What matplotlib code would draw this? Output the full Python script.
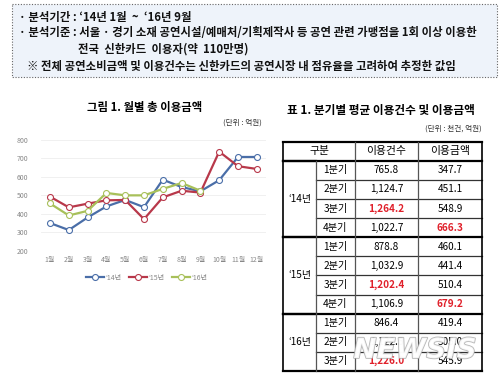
import matplotlib
matplotlib.use('Agg')
import matplotlib.pyplot as plt
import matplotlib.patheffects as pe
from matplotlib.patches import Rectangle

plt.rcParams['font.family'] = ['Noto Sans CJK KR', 'DejaVu Sans']

months = ['1월', '2월', '3월', '4월', '5월', '6월', '7월', '8월', '9월', '10월', '11월', '12월']
amt14 = [350, 312, 380, 440, 475, 436, 585, 545, 522, 582, 708, 708]
amt15 = [493, 435, 455, 473, 475, 371, 489, 525, 515, 737, 658, 643]
amt16 = [456, 391, 416, 513, 500, 500, 535, 567, 525]
series_names = ["‘14년", "‘15년", "‘16년"]
series_colors = ['#4a6ea8', '#b8384a', '#a8c05a']

years = ["‘14년", "‘15년", "‘16년"]
quarters = [['1분기', '2분기', '3분기', '4분기'],
            ['1분기', '2분기', '3분기', '4분기'],
            ['1분기', '2분기', '3분기']]
counts = [['765.8', '1,124.7', '1,264.2', '1,022.7'],
          ['878.8', '1,032.9', '1,202.4', '1,106.9'],
          ['846.4', '1,122.5', '1,226.0']]
amounts = [['347.7', '451.1', '548.9', '666.3'],
           ['460.1', '441.4', '510.4', '679.2'],
           ['419.4', '505.0', '545.9']]
count_hi = [2, 2, 2]   # row index of highlighted count
amount_hi = [3, 3, None]

info_lines = [
    "· 분석기간 : ‘14년 1월  ~  ‘16년 9월",
    "· 분석기준 : 서울 · 경기 소재 공연시설/예매처/기획제작사 등 공연 관련 가맹점을 1회 이상 이용한",
    "전국  신한카드  이용자(약  110만명)",
    "※ 전체 공연소비금액 및 이용건수는 신한카드의 공연시장 내 점유율을 고려하여 추정한 값임",
]

fig = plt.figure(figsize=(4.99, 3.86), dpi=100)
ov = fig.add_axes([0, 0, 1, 1])
ov.set_xlim(0, 499)
ov.set_ylim(386, 0)
ov.axis('off')

# info box
ov.add_patch(Rectangle((12, 4), 485, 73, facecolor='#eef3fa', edgecolor='#666666',
                       linestyle=(0, (1, 1.5)), linewidth=0.8))
info_pos = [(19, 17), (19, 33), (78, 49), (27, 66)]
for (x, y), s in zip(info_pos, info_lines):
    ov.text(x, y, s, fontsize=8.2, fontweight='bold', va='center', ha='left', color='#111111')

# chart
ov.text(145, 108, '그림 1. 월별 총 이용금액', fontsize=8.2, fontweight='bold', ha='center', va='center')
ov.text(262, 123, '(단위 : 억원)', fontsize=5.5, ha='right', va='center', color='#333333')

ax = fig.add_axes([40.6 / 499, (386 - 250.7) / 386, 225.6 / 499, 110.7 / 386])
ax.patch.set_alpha(0)
x = list(range(1, 13))
for vals, name, c in zip([amt14, amt15, amt16], series_names, series_colors):
    ax.plot(x[:len(vals)], vals, color=c, lw=1.6, marker='o', ms=4.3,
            mfc='white', mec=c, mew=0.8, label=name)
ax.set_xlim(0.5, 12.5)
ax.set_ylim(200, 800)
ax.set_yticks(range(200, 801, 100))
ax.set_xticks(x)
ax.set_xticklabels(months)
ax.tick_params(length=0, labelsize=5, colors='#888888', pad=4)
ax.tick_params(axis='y', pad=9)
ax.grid(axis='y', color='#eeeeee', lw=0.6)
for s in ax.spines.values():
    s.set_visible(False)
ax.legend(loc='upper center', bbox_to_anchor=(0.47, -0.15), ncol=3, frameon=False,
          fontsize=5, handlelength=2.6, columnspacing=1.0, handletextpad=0.3,
          labelcolor='#888888')

# table
ov.text(381, 110.5, '표 1. 분기별 평균 이용건수 및 이용금액', fontsize=8.4, fontweight='bold',
        ha='center', va='center')
ov.text(482, 129, '(단위 : 천건, 억원)', fontsize=5.5, ha='right', va='center', color='#333333')

xl, xyq, xqc, xca, xr = 283, 316, 355, 418, 482
top = 141.7
rh = 19.1
for xc, s in [((xl + xqc) / 2, '구분'), ((xqc + xca) / 2, '이용건수'), ((xca + xr) / 2, '이용금액')]:
    ov.text(xc, top + rh / 2, s, fontsize=7.8, ha='center', va='center')
ov.plot([xl, xr], [top, top], color='black', lw=1.6)
y0 = top + rh
ov.plot([xl, xr], [y0, y0], color='black', lw=1.6)
for g, yr in enumerate(years):
    n = len(quarters[g])
    for i in range(n):
        yc = y0 + rh * (i + 0.5)
        ov.text((xyq + xqc) / 2, yc, quarters[g][i], fontsize=7.3, ha='center', va='center')
        hi = count_hi[g] == i
        ov.text((xqc + xca) / 2, yc, counts[g][i], fontsize=7.2, ha='center', va='center',
                color='#e0202a' if hi else 'black', fontweight='bold' if hi else 'normal')
        hi = amount_hi[g] == i
        ov.text((xca + xr) / 2, yc, amounts[g][i], fontsize=7.2, ha='center', va='center',
                color='#e0202a' if hi else 'black', fontweight='bold' if hi else 'normal')
        if i < n - 1:
            ov.plot([xyq, xr], [y0 + rh * (i + 1)] * 2, color='#333333', lw=0.9)
    ov.text((xl + xyq) / 2, y0 + rh * n / 2, yr, fontsize=7.2, ha='center', va='center')
    y1 = y0 + rh * n
    ov.plot([xl, xyq], [y0, y0], color='black', lw=1.6)
    ov.plot([xl, xr], [y1, y1], color='black', lw=1.6)
    y0 = y1
bottom = y0
ov.plot([xl, xl], [top, bottom], color='black', lw=1.2)
ov.plot([xr, xr], [top, bottom], color='black', lw=1.2)
ov.plot([xyq, xyq], [top + rh, bottom], color='#555555', lw=0.9)
ov.plot([xqc, xqc], [top, bottom], color='#555555', lw=0.9)
ov.plot([xca, xca], [top, bottom], color='#555555', lw=0.9)

# watermark
ov.text(415, 350, 'NEWSIS', fontsize=20, fontweight='bold', style='italic', family='DejaVu Sans',
        ha='center', va='center', color='white', alpha=0.85,
        path_effects=[pe.withStroke(linewidth=1.2, foreground='#aaaaaa')])

fig.savefig('out.png', dpi=100)
